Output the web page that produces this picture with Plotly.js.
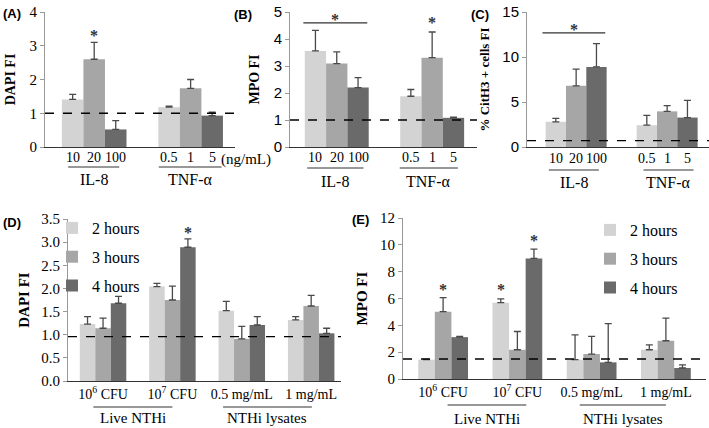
<!DOCTYPE html>
<html><head><meta charset="utf-8">
<script src="https://cdn.plot.ly/plotly-3.0.1.min.js"></script>
<style>html,body{margin:0;padding:0;background:#fff}#chart{width:709px;height:428px}</style>
</head><body><div id="chart"></div>
<script>
// ---------- DATA ----------
const abcGroups = ['IL-8', 'TNF-α'];
const abcDoseLabels = [['10', '20', '100'], ['0.5', '1', '5']];
// Panel A: DAPI FI (series = low / mid / high dose, per group IL-8, TNF-α)
const aLow = [1.41, 1.18], aLowErr = [0.15, 0.03];
const aMid = [2.60, 1.74], aMidErr = [0.50, 0.26];
const aHigh = [0.52, 0.93], aHighErr = [0.26, 0.10];
// Panel B: MPO FI
const bLow = [3.56, 1.88], bLowErr = [0.76, 0.25];
const bMid = [3.09, 3.31], bMidErr = [0.43, 0.95];
const bHigh = [2.20, 1.08], bHighErr = [0.37, 0.03];
// Panel C: % CitH3 + cells FI
const cLow = [2.80, 2.42], cLowErr = [0.37, 1.10];
const cMid = [6.80, 3.96], cMidErr = [1.85, 0.64];
const cHigh = [8.90, 3.27], cHighErr = [2.58, 1.92];
// Panels D/E
const deCategories = ['10<sup>6</sup> CFU', '10<sup>7</sup> CFU', '0.5 mg/mL', '1 mg/mL'];
const seriesNames = ['2 hours', '3 hours', '4 hours'];
const d2h = [1.23, 2.04, 1.52, 1.32], d2hErr = [0.16, 0.07, 0.20, 0.07];
const d3h = [1.14, 1.75, 0.91, 1.62], d3hErr = [0.22, 0.30, 0.27, 0.23];
const d4h = [1.68, 2.89, 1.21, 1.03], d4hErr = [0.15, 0.18, 0.18, 0.11];
const e2h = [1.44, 5.69, 1.44, 2.18], e2hErr = [0.02, 0.28, 1.85, 0.37];
const e3h = [5.02, 2.18, 1.86, 2.85], e3hErr = [1.04, 1.36, 1.31, 1.68];
const e4h = [3.12, 8.99, 1.24, 0.82], e4hErr = [0.05, 0.69, 2.89, 0.24];
// control (dashed) reference levels
const baseA = 1.0, baseB = 1.0, baseC = 0.7, baseD = 0.96, baseE = 1.49;
// significance stars: group index, series index, y value
const starsA = [[0, 1, 3.28]];
const starsB = [[1, 1, 4.58]];
const starsC = [];
const starsD = [[1, 2, 3.2]];
const starsE = [[0, 1, 6.65], [1, 0, 6.65], [1, 2, 10.3]];
// bracket significance (y of line, star)
const bracketB = {y: 4.6, star: 4.70};
const bracketC = {y: 12.67, star: 12.97};

// ---------- STYLE ----------
const W = 709, H = 428;
const colors = ['#d3d3d3', '#a6a6a6', '#6a6a6a'];
const errColor = '#4a4a4a';
const serif = 'Liberation Serif';
const sans = 'Liberation Sans';
const BARGAP = 0.33;
const BW = (1 - BARGAP) / 3;
const pxX = x => x / W, pxY = y => 1 - y / H;

const traces = [];
function addBars(xaxis, yaxis, cats, vals, errs, names, legend) {
  vals.forEach((v, i) => {
    const t = {
      type: 'bar', x: cats, y: v, xaxis: xaxis, yaxis: yaxis,
      marker: {color: colors[i], line: {width: 0}},
      error_y: {type: 'data', symmetric: false, array: errs[i], arrayminus: v.map(() => 0),
        color: errColor, thickness: 1.3, width: 3.5},
      hoverinfo: 'y'
    };
    if (names) { t.name = names[i]; t.legend = legend; t.legendgroup = legend + i; t.showlegend = true; }
    else t.showlegend = false;
    traces.push(t);
  });
}
addBars('x', 'y', abcGroups, [aLow, aMid, aHigh], [aLowErr, aMidErr, aHighErr]);
addBars('x2', 'y2', abcGroups, [bLow, bMid, bHigh], [bLowErr, bMidErr, bHighErr]);
addBars('x3', 'y3', abcGroups, [cLow, cMid, cHigh], [cLowErr, cMidErr, cHighErr]);
addBars('x4', 'y4', deCategories, [d2h, d3h, d4h], [d2hErr, d3hErr, d4hErr], seriesNames, 'legend');
addBars('x5', 'y5', deCategories, [e2h, e3h, e4h], [e2hErr, e3hErr, e4hErr], seriesNames, 'legend2');

const shapes = [], annotations = [];
function dashed(xr, yr, v) {
  shapes.push({type: 'line', xref: xr + ' domain', yref: yr, x0: 0, x1: 1, y0: v, y1: v,
    line: {color: '#000', width: 1.3, dash: 'dash'}});
}
dashed('x', 'y', baseA); dashed('x2', 'y2', baseB); dashed('x3', 'y3', baseC);
dashed('x4', 'y4', baseD); dashed('x5', 'y5', baseE);

const starFont = {family: serif, size: 16, color: '#333333'};
function star(xr, yr, g, s, y) {
  annotations.push({xref: xr, yref: yr, x: g + (s - 1) * BW, y: y, text: '<b>*</b>', showarrow: false,
    yanchor: 'bottom', yshift: -10, font: starFont});
}
starsA.forEach(s => star('x', 'y', ...s));
starsB.forEach(s => star('x2', 'y2', ...s));
starsC.forEach(s => star('x3', 'y3', ...s));
starsD.forEach(s => star('x4', 'y4', ...s));
starsE.forEach(s => star('x5', 'y5', ...s));

function bracket(xr, yr, x0, x1, b) {
  shapes.push({type: 'line', xref: xr, yref: yr, x0: x0, x1: x1, y0: b.y, y1: b.y, line: {color: '#333', width: 1.3}});
  annotations.push({xref: xr, yref: yr, x: (x0 + x1) / 2, y: b.star, text: '<b>*</b>', showarrow: false,
    yanchor: 'bottom', yshift: -10, font: starFont});
}
bracket('x2', 'y2', -0.35, 0.32, bracketB);
bracket('x3', 'y3', -0.37, 0.32, bracketC);

// dose labels + underline + group labels for A-C
function doseLabels(xr, yDose, yLine, yGroup, lines) {
  abcDoseLabels.forEach((labs, g) => {
    labs.forEach((l, s) => annotations.push({xref: xr, yref: 'paper', x: g + (s - 1) * BW, y: pxY(yDose),
      text: l, showarrow: false, yanchor: 'middle', font: {family: serif, size: 14, color: '#000'}}));
    shapes.push({type: 'line', xref: xr, yref: 'paper', x0: g + lines[g][0], x1: g + lines[g][1],
      y0: pxY(yLine), y1: pxY(yLine), line: {color: '#333', width: 1.2}});
    annotations.push({xref: xr, yref: 'paper', x: g + (lines[g][0] + lines[g][1]) / 2, y: pxY(yGroup),
      text: abcGroups[g], showarrow: false, yanchor: 'middle', font: {family: serif, size: 16, color: '#000'}});
  });
}
doseLabels('x', 157, 167, 180, [[-0.27, 0.26], [-0.33, 0.32]]);
doseLabels('x2', 157, 168, 181, [[-0.31, 0.28], [-0.34, 0.27]]);
doseLabels('x3', 158, 170, 182, [[-0.30, 0.25], [-0.26, 0.29]]);
annotations.push({xref: 'paper', yref: 'paper', x: pxX(246), y: pxY(159), text: '(ng/mL)', showarrow: false,
  font: {family: serif, size: 15, color: '#000'}});

// group labels for D / E
function deGroups(xr, yLine, yText, spans) {
  const names = ['Live NTHi', 'NTHi lysates'];
  spans.forEach((sp, i) => {
    shapes.push({type: 'line', xref: xr, yref: 'paper', x0: sp[0], x1: sp[1], y0: pxY(yLine), y1: pxY(yLine),
      line: {color: '#333', width: 1.2}});
    annotations.push({xref: xr, yref: 'paper', x: (sp[0] + sp[1]) / 2, y: pxY(yText), text: names[i],
      showarrow: false, yanchor: 'middle', font: {family: serif, size: 15, color: '#000'}});
  });
}
deGroups('x4', 407, 418, [[-0.14, 1.0], [1.73, 3.01]]);
deGroups('x5', 405, 419, [[0.06, 1.12], [1.84, 3.0]]);

// panel letters
[['(A)', 1, 14], ['(B)', 232, 15], ['(C)', 469, 15], ['(D)', 1, 222], ['(E)', 350, 220]].forEach(p => {
  annotations.push({xref: 'paper', yref: 'paper', x: pxX(p[1]), y: pxY(p[2]), xanchor: 'left', yanchor: 'middle',
    text: '<b>' + p[0] + '</b>', showarrow: false, font: {family: sans, size: 13, color: '#000'}});
});

function xax(l, r, range, anchor, showLabels) {
  return {domain: [pxX(l), pxX(r)], range: range, anchor: anchor, type: 'category',
    showline: true, linecolor: '#333', linewidth: 1.3, ticks: '', showgrid: false, zeroline: false,
    showticklabels: !!showLabels, tickfont: {family: serif, size: 14, color: '#000'}, fixedrange: true};
}
function yax(t, b, range, dtick, title, fam, tsize, standoff, fmt) {
  return {domain: [pxY(b), pxY(t)], range: range, dtick: dtick,
    showline: true, linecolor: '#999', linewidth: 1, ticks: 'outside', ticklen: 4, tickcolor: '#999',
    showgrid: false, zeroline: false, tickformat: fmt || '',
    tickfont: {family: fam, size: 15, color: '#000'},
    title: {text: '<b>' + title + '</b>', font: {family: serif, size: tsize, color: '#000'}, standoff: standoff}};
}
const legendBase = {xanchor: 'left', yanchor: 'top', bgcolor: 'rgba(0,0,0,0)',
  font: {family: serif, size: 16, color: '#000'}, itemwidth: 30, tracegroupgap: 5, traceorder: 'grouped'};
const layout = {
  width: W, height: H, margin: {l: 0, r: 0, t: 0, b: 0}, paper_bgcolor: '#fff', plot_bgcolor: 'rgba(0,0,0,0)',
  barmode: 'group', bargap: BARGAP, bargroupgap: 0,
  xaxis: xax(45, 235, [-0.51, 1.46], 'y'),
  yaxis: Object.assign(yax(12, 147, [0, 4], 1, 'DAPI FI', serif, 14, 10), {anchor: 'x'}),
  xaxis2: xax(290, 477, [-0.49, 1.47], 'y2'),
  yaxis2: Object.assign(yax(12, 147, [0, 5], 1, 'MPO FI', sans, 14, 10), {anchor: 'x2'}),
  xaxis3: xax(527, 709, [-0.54, 1.46], 'y3'),
  yaxis3: Object.assign(yax(12, 147, [0, 15], 5, '% CitH3 + cells FI', sans, 13, 9), {anchor: 'x3'}),
  xaxis4: xax(68, 341, [-0.505, 3.43], 'y4', true),
  yaxis4: Object.assign(yax(219, 381, [0, 3.5], 0.5, 'DAPI FI', serif, 15, 8, '.1f'), {anchor: 'x4'}),
  xaxis5: xax(403, 706, [-0.54, 3.54], 'y5', true),
  yaxis5: Object.assign(yax(218, 379, [0, 12], 2, 'MPO FI', serif, 15, 8), {anchor: 'x5'}),
  legend: Object.assign({x: pxX(52), y: pxY(211)}, legendBase),
  legend2: Object.assign({x: pxX(590), y: pxY(213)}, legendBase),
  shapes: shapes, annotations: annotations, showlegend: true
};
Plotly.newPlot('chart', traces, layout, {displayModeBar: false, staticPlot: true});
</script></body></html>
